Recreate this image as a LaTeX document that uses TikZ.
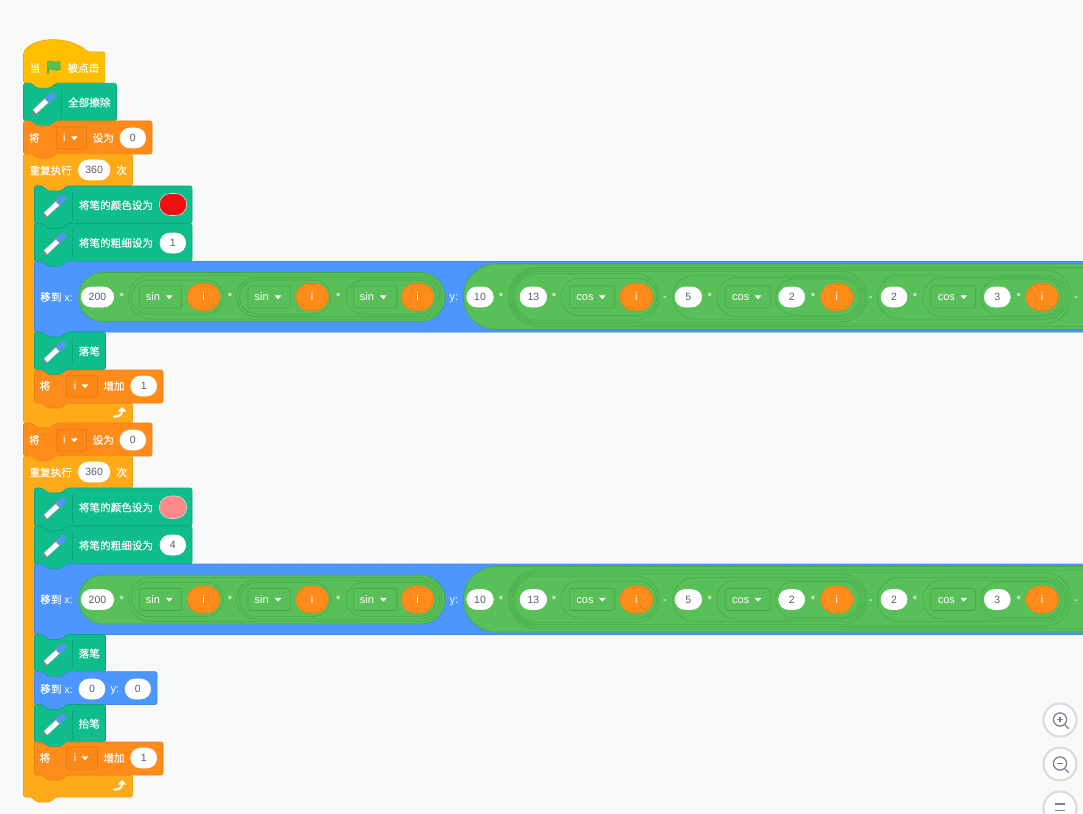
\documentclass[tikz,border=0pt]{standalone}
\usepackage{fontspec}
\setmainfont{Liberation Sans}
\newfontfamily\cjk[FakeBold=0.12]{Noto Sans CJK SC}
\definecolor{bgc}{HTML}{F9F9F9}
\definecolor{dotc}{HTML}{DEDEDE}
\definecolor{hatf}{HTML}{FFBF00}
\definecolor{hats}{HTML}{E6AC00}
\definecolor{penf}{HTML}{0FBD8C}
\definecolor{pens}{HTML}{0DA57A}
\definecolor{dataf}{HTML}{FF8C1A}
\definecolor{datas}{HTML}{EC7F12}
\definecolor{ctrlf}{HTML}{FFAB19}
\definecolor{ctrls}{HTML}{EF9F14}
\definecolor{motf}{HTML}{4C97FF}
\definecolor{mots}{HTML}{4285E6}
\definecolor{opf}{HTML}{59C059}
\definecolor{ops}{HTML}{46A546}
\definecolor{numc}{HTML}{575E75}
\definecolor{iconc}{HTML}{7B7F99}
\definecolor{swa}{HTML}{F00F0F}
\definecolor{swb}{HTML}{FF8888}
\definecolor{sws}{HTML}{D8D8D8}
\tikzset{
  blockline/.style={line width=0.6pt,rounded corners=2pt},
  txt/.style={font=\fontsize{11}{12}\selectfont,text=white,anchor=base,inner sep=0pt},
  cjktxt/.style={font=\fontsize{10.6}{12}\selectfont,text=white,anchor=base,inner sep=0pt},
  numtxt/.style={font=\fontsize{10.5}{12}\selectfont,text=numc,anchor=base,inner sep=0pt},
  ringline/.style={draw=ops,line width=0.5pt},
}
\newcounter{lbc}
\newcommand{\sbLat}[3]{\stepcounter{lbc}\node[txt] (t\thelbc) at ({#1},{#2+3.8}) {#3};}
\newcommand{\sbCjk}[3]{\stepcounter{lbc}\node[cjktxt] (t\thelbc) at ({#1},{#2+4}) {\cjk #3};}
\newcommand{\sbPill}[6]{% x0 x1 y0 y1 fill stroke
  \pgfmathsetmacro{\sbr}{((#4)-(#3))/2-0.01}
  \draw[fill=#5,draw=#6,line width=0.6pt,rounded corners=\sbr pt] (#1,#3) rectangle (#2,#4);}
\newcommand{\sbWhite}[4]{% x0 x1 cy text
  \sbPill{#1}{#2}{#3-10}{#3+10}{white}{white}
  \stepcounter{lbc}\node[numtxt] (t\thelbc) at ({(#1+#2)/2},{#3+3.8}) {#4};}
\newcommand{\sbRing}[4]{%
  \pgfmathsetmacro{\sbr}{((#4)-(#3))/2-0.01}
  \draw[ringline,rounded corners=\sbr pt] (#1,#3) rectangle (#2,#4);}
\newcommand{\sbVar}[3]{% x0 x1 cy
  \sbPill{#1}{#2}{#3-13.5}{#3+13.5}{dataf}{datas}
  \sbLat{(#1+#2)/2}{#3}{i}}
\newcommand{\sbTri}[2]{\fill[white,rounded corners=0.4pt] ({#1-3.4},{#2-1.7}) -- ({#1+3.4},{#2-1.7}) -- ({#1},{#2+2.2}) -- cycle;}
\newcommand{\sbDrop}[6]{% x0 x1 cy text tx ax
  \draw[fill=opf,draw=ops,line width=0.6pt,rounded corners=2pt] (#1,#3-11) rectangle (#2,#3+11);
  \sbLat{#1+#5}{#3}{#4}
  \sbTri{#1+#6}{#3}}
\newcommand{\sbVarDrop}[2]{% x0 cy
  \draw[fill=dataf!80!datas,draw=datas!90!black,line width=0.5pt,rounded corners=2pt] (#1,#2-11) rectangle (#1+30.7,#2+11);
  \sbLat{#1+8.3}{#2}{i}
  \sbTri{#1+18.3}{#2}}
\newcommand{\sbBlock}[6]{% x y0 x1 y1 fill stroke
  \draw[blockline,fill=#5,draw=#6] (#1,#2) -- (#1+8,#2) -- (#1+13,#2+5) -- (#1+27,#2+5) -- (#1+32,#2) -- (#3,#2) -- (#3,#4) -- (#1+32,#4) -- (#1+27,#4+5) -- (#1+13,#4+5) -- (#1+8,#4) -- (#1,#4) -- cycle;}
\newcommand{\sbCBlock}[6]{% x y0 x1 y1 y2 y3
  \draw[blockline,fill=ctrlf,draw=ctrls] (#1,#2) -- (#1+8,#2) -- (#1+13,#2+5) -- (#1+27,#2+5) -- (#1+32,#2) -- (#3,#2) -- (#3,#4) -- (#1+43,#4) -- (#1+38,#4+5) -- (#1+24,#4+5) -- (#1+19,#4) -- (#1+11,#4) -- (#1+11,#5) -- (#3,#5) -- (#3,#6) -- (#1+32,#6) -- (#1+27,#6+5) -- (#1+13,#6+5) -- (#1+8,#6) -- (#1,#6) -- cycle;}
\newcommand{\sbPenIcon}[2]{% centre
  \begin{scope}[shift={({#1},{#2})},rotate=43]
    \fill[numc!75!white] (-16,0) -- (-11.5,-2.6) -- (-11.5,2.6) -- cycle;
    \draw[fill=white,draw=numc!50!white,line width=0.35pt] (-11.5,-2.6) rectangle (6,2.6);
    \draw[fill=motf,draw=numc!70!white,line width=0.35pt,rounded corners=1.4pt] (5,-3) rectangle (15,3);
    \draw[numc!80!white,line width=0.6pt,line cap=round] (0,-3.9) -- (8,-3.9);
  \end{scope}}
\newcommand{\sbPenBlock}[6]{% x y0 x1 y1 textoffset text
  \sbBlock{#1}{#2}{#3}{#4}{penf}{pens}
  \sbPenIcon{#1+19.5}{(#2+#4)/2+2}
  \draw[pens,line width=0.6pt] (#1+38,#2+5.5) -- (#1+38,#4-3.5);
  \sbCjk{#1+#5}{(#2+#4)/2+0.5}{#6}}
\newcommand{\sbTurn}[2]{%
  \draw[white,line width=2pt] (#1-6.5,#2+3.7) .. controls (#1-1,#2+3.7) and (#1+2,#2+2) .. (#1+2,#2-2);
  \fill[white] (#1-2.2,#2-1.5) -- (#1+2,#2-6) -- (#1+6.2,#2-1.5) -- cycle;}
\newcommand{\sbMove}{% contents of the long move block, centre line 297
  \sbBlock{34.5}{261.5}{1100}{332}{motf}{mots}
  \stepcounter{lbc}\node[cjktxt] (t\thelbc) at (56.5,301) {{\cjk 移到} x:};
  \sbPill{78.5}{445}{272.5}{321.5}{opf}{ops}
  \sbWhite{81.3}{113.7}{297}{200}
  \sbLat{121.7}{297}{*}
  \sbRing{128.5}{442}{275}{319}
  \sbRing{131.5}{223}{280}{314}
  \sbDrop{139.3}{181.7}{297}{sin}{13.7}{30}
  \sbVar{187.3}{220}{297}
  \sbLat{230}{297}{*}
  \sbRing{236.5}{439.5}{277.5}{316.5}
  \sbRing{239.5}{330.5}{280}{314}
  \sbDrop{248}{290.3}{297}{sin}{13.7}{30}
  \sbVar{296}{328.3}{297}
  \sbLat{338.3}{297}{*}
  \sbRing{346}{436.5}{280}{314}
  \sbDrop{353.3}{396.7}{297}{sin}{13.7}{30}
  \sbVar{401.3}{433.7}{297}
  \sbLat{454}{297}{y:}
  \sbPill{463.3}{1260}{264}{329.5}{opf}{ops}
  \sbWhite{466.7}{493.3}{297}{10}
  \sbLat{501}{297}{*}
  \sbRing{508.3}{1260}{267.3}{326.3}
  \sbRing{510.3}{1071}{269.5}{324}
  \sbRing{512}{867}{271.5}{322}
  \sbRing{514}{659}{273.5}{320}
  \sbWhite{520}{546.7}{297}{13}
  \sbLat{554}{297}{*}
  \sbRing{560.7}{656.7}{278.5}{315.5}
  \sbDrop{569.3}{615}{297}{cos}{15.7}{33}
  \sbVar{620}{652.7}{297}
  \sbLat{665}{297}{-}
  \sbRing{672.7}{865}{275}{319}
  \sbWhite{675}{701.7}{297}{5}
  \sbLat{709.7}{297}{*}
  \sbRing{716.7}{862.5}{277.5}{316.5}
  \sbDrop{725}{770.3}{297}{cos}{15.7}{33}
  \sbRing{775.7}{860}{279}{315}
  \sbWhite{778.7}{804.7}{297}{2}
  \sbLat{813}{297}{*}
  \sbVar{820.7}{853}{297}
  \sbLat{870.7}{297}{-}
  \sbRing{877.3}{1068}{275}{319}
  \sbWhite{881}{907}{297}{2}
  \sbLat{915}{297}{*}
  \sbRing{922.7}{1065.5}{277.5}{316.5}
  \sbDrop{930.7}{975.7}{297}{cos}{15.7}{33}
  \sbRing{981}{1062}{279}{315}
  \sbWhite{984.3}{1010.3}{297}{3}
  \sbLat{1018.7}{297}{*}
  \sbVar{1026}{1058.3}{297}
  \sbLat{1076}{297}{-}
}
\newcommand{\sbChange}[1]{% y offset: block 370-403
  \sbBlock{34.5}{370+#1}{163}{403+#1}{dataf}{datas}
  \sbCjk{45}{386+#1}{将}
  \sbVarDrop{66.7}{386+#1}
  \sbCjk{114}{386+#1}{增加}
  \sbWhite{130.7}{156.7}{386+#1}{1}}
\newcommand{\sbSet}[2]{% y0 cy
  \sbBlock{23.5}{#1}{152}{#1+33}{dataf}{datas}
  \sbCjk{34.3}{#2}{将}
  \sbVarDrop{56}{#2}
  \sbCjk{103.3}{#2}{设为}
  \sbWhite{120}{145.7}{#2}{0}}
\begin{document}
\begin{tikzpicture}[x=1pt,y=-1pt]
\useasboundingbox (0,0) rectangle (1083,813);
\clip (0,0) rectangle (1083,813);
\fill[bgc] (0,0) rectangle (1083,813);
\fill[dotc] foreach \i in {0,...,40} { foreach \j in {0,...,29} { ({4+27*\i},{20+27*\j}) circle (0.7pt) } };
% hat
\draw[blockline,fill=hatf,draw=hats] (23.5,52) .. controls (35,36) and (70,36) .. (88,52) -- (104.8,52) -- (104.8,83) -- (55.5,83) -- (50.5,88) -- (36.5,88) -- (31.5,83) -- (23.5,83) -- cycle;
\sbCjk{35}{68}{当}
\draw[fill=opf,draw=ops,line width=0.5pt] (47.5,61.5) .. controls (51,59.5) and (55,64) .. (60,61.5) -- (60,69.5) .. controls (55,72) and (51,67.5) .. (48.3,69.5) -- (48.3,73.5) -- (47,73.5) -- cycle;
\sbCjk{83.3}{68}{被点击}
% erase all
\sbPenBlock{23.5}{83.3}{116.5}{120.7}{65.8}{全部擦除}
\sbSet{121}{138}
% first loop
\sbCBlock{23.5}{154}{132.5}{186}{403}{423}
\sbCjk{50.7}{170.5}{重复执行}
\sbWhite{78.3}{110}{170}{360}
\sbCjk{121.7}{170.5}{次}
\sbPenBlock{34.5}{186}{192}{223.5}{81.5}{将笔的颜色设为}
\sbPill{159.3}{186.7}{193.5}{215.5}{swa}{sws}
\sbPenBlock{34.5}{223.5}{192}{261.5}{81.5}{将笔的粗细设为}
\sbWhite{160}{185.7}{243}{1}
\sbMove
\sbPenBlock{34.5}{332}{105.5}{369.5}{54.8}{落笔}
\sbChange{0}
\sbTurn{120}{413}
\sbSet{423}{440}
% second loop
\sbCBlock{23.5}{456}{132.5}{488}{775}{797}
\sbCjk{50.7}{472.5}{重复执行}
\sbWhite{78.3}{110}{472}{360}
\sbCjk{121.7}{472.5}{次}
\sbPenBlock{34.5}{488}{192}{526}{81.5}{将笔的颜色设为}
\sbPill{159.3}{186.7}{496}{518.5}{swb}{sws}
\sbPenBlock{34.5}{526}{192}{564}{81.5}{将笔的粗细设为}
\sbWhite{160}{185.7}{545}{4}
\begin{scope}[shift={(0,302.5)}]
\sbMove
\end{scope}
\sbPenBlock{34.5}{634.5}{105.5}{671.7}{54.8}{落笔}
\sbBlock{34.5}{671.7}{157}{704.5}{motf}{mots}
\stepcounter{lbc}\node[cjktxt] (t\thelbc) at (56.5,693) {{\cjk 移到} x:};
\sbWhite{79}{105}{689}{0}
\sbLat{115}{689}{y:}
\sbWhite{125}{150.7}{689}{0}
\sbPenBlock{34.5}{704.5}{105.5}{742}{54.8}{抬笔}
\sbChange{372}
\sbTurn{120}{786}
% zoom controls
\draw[fill=white,draw=black!15,line width=2pt] (1060,720) circle (16.5pt);
\draw[iconc,line width=1.3pt] (1060,719.5) circle (6.6pt);
\draw[iconc,line width=1.3pt,line cap=round] (1065,725) -- (1068.5,728.5);
\draw[iconc,line width=1.2pt] (1057.3,719.5) -- (1062.7,719.5) (1060,716.8) -- (1060,722.2);
\draw[fill=white,draw=black!15,line width=2pt] (1060,764) circle (16.5pt);
\draw[iconc,line width=1.3pt] (1060,763.5) circle (6.6pt);
\draw[iconc,line width=1.3pt,line cap=round] (1065,769) -- (1068.5,772.5);
\draw[iconc,line width=1.2pt] (1057.3,763.5) -- (1062.7,763.5);
\draw[fill=white,draw=black!15,line width=2pt] (1060,808) circle (16.5pt);
\draw[iconc,line width=1.5pt] (1055,804) -- (1065,804) (1055,810.7) -- (1065,810.7);
\end{tikzpicture}
\end{document}
